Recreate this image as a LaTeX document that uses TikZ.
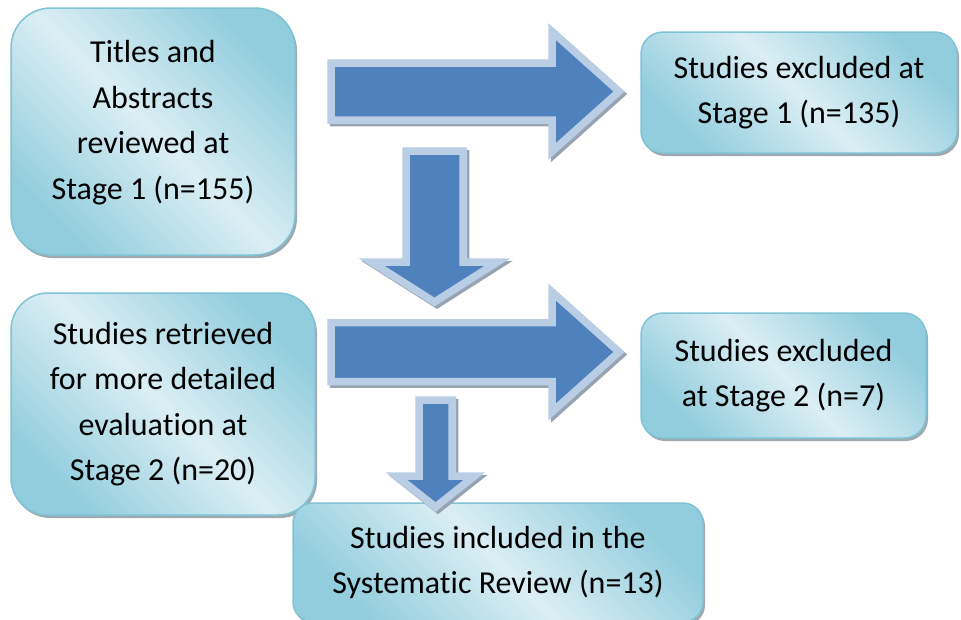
\documentclass[tikz,border=0pt]{standalone}
\usepackage{fontspec}
\setmainfont{Carlito}[Ligatures=NoCommon]
\usetikzlibrary{shadows}

\definecolor{boxdark}{RGB}{146,205,221}
\definecolor{boxlight}{RGB}{219,238,244}
\definecolor{boxline}{RGB}{128,195,213}
\definecolor{boxshadow}{RGB}{158,168,174}
\definecolor{arrowfill}{RGB}{79,129,189}
\definecolor{arrowline}{RGB}{185,205,229}
\definecolor{arrowshadow}{RGB}{152,163,178}

\tikzset{
	stagebox/.style={rectangle, draw=boxline, line width=1.5pt, left color=boxdark, right color=boxdark, middle color=boxlight, shading angle=135, align=center, inner sep=0pt, font=\fontsize{32}{45.5}\selectfont, drop shadow={shadow xshift=2pt, shadow yshift=-3pt, fill=boxshadow, opacity=1}},
	blockarrow/.style={fill=arrowfill, draw=arrowline, line width=7.5pt, line join=miter, preaction={fill=arrowshadow, draw=arrowshadow, line width=7.5pt, transform canvas={shift={(2.5pt,-2.5pt)}}}}
}

% right block arrow: x0, yc, head x, tip x, half body, half head
\newcommand{\rblock}[6]{\draw[blockarrow] (#1,#2-#5) -- (#3,#2-#5) -- (#3,#2-#6) -- (#4,#2) -- (#3,#2+#6) -- (#3,#2+#5) -- (#1,#2+#5) -- cycle;}
% down block arrow: xc, y0, head y, tip y, half body, half head
\newcommand{\dblock}[6]{\draw[blockarrow] (#1-#5,#2) -- (#1+#5,#2) -- (#1+#5,#3) -- (#1+#6,#3) -- (#1,#4) -- (#1-#6,#3) -- (#1-#5,#3) -- cycle;}

\begin{document}
\begin{tikzpicture}[x=1pt, y=-1pt]
		\useasboundingbox (0,0) rectangle (961,619);
		\node[stagebox, minimum width=284pt, minimum height=247pt, rounded corners=40pt, text depth=23pt] (titles) at (153,131.5) {Titles and\\Abstracts\\reviewed at\\Stage 1 (n=155)};
		\node[stagebox, minimum width=316pt, minimum height=121pt, rounded corners=22pt] (excl1) at (799,92.5) {Studies excluded at\\Stage 1 (n=135)};
		\node[stagebox, minimum width=304pt, minimum height=222pt, rounded corners=37pt] (retr) at (163,404) {Studies retrieved\\for more detailed\\evaluation at\\Stage 2 (n=20)};
		\node[stagebox, minimum width=285pt, minimum height=125pt, rounded corners=22pt] (excl2) at (783.5,375.5) {Studies excluded\\at Stage 2 (n=7)};
		\node[stagebox, minimum width=410pt, minimum height=119pt, rounded corners=20pt] (incl) at (498,562.5) {Studies included in the\\Systematic Review (n=13)};
		\rblock{331}{91.5}{552}{619}{28.5}{60}
		\dblock{434.5}{151}{262}{302}{28.5}{63}
		\rblock{331}{352}{552}{619}{29.5}{60}
		\dblock{435.5}{400}{476}{507}{16.5}{39}
	\end{tikzpicture}
\end{document}
